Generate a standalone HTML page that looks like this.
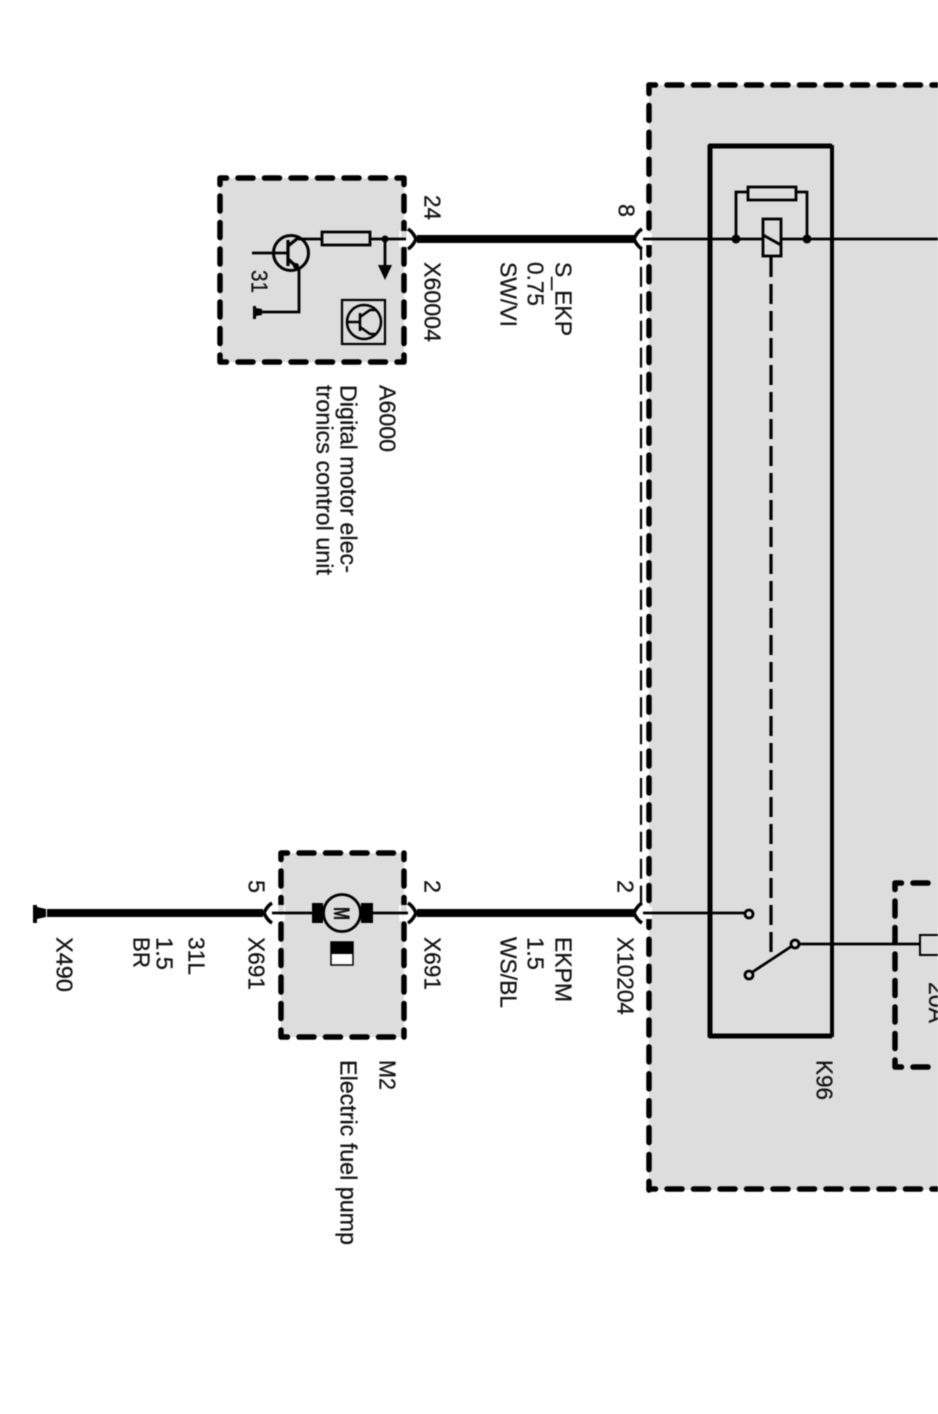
<!DOCTYPE html>
<html><head><meta charset="utf-8"><style>
html,body{margin:0;padding:0;background:#fff}
svg{display:block;filter:blur(.5px)}
text{font-family:"Liberation Sans",sans-serif;font-size:23px;fill:#111;stroke:#111;stroke-width:.25}
.w{fill:none;stroke:#000;stroke-width:2.8}
.t{fill:none;stroke:#000;stroke-width:8}
.d{fill:none;stroke:#000;stroke-width:5.5;stroke-linecap:round;stroke-dasharray:15 11.5;stroke-dashoffset:8.5}
.v{stroke-dasharray:15 11.9;stroke-dashoffset:6.5}
.j{fill:none;stroke:#000;stroke-width:3.5}
</style></head><body>
<svg width="938" height="1414" viewBox="0 0 938 1414" xmlns="http://www.w3.org/2000/svg">
<rect width="938" height="1414" fill="#fff"/>
<!-- boxes -->
<rect x="220" y="178" width="184" height="184" fill="#ddd"/>
<path class="d" d="M220 178H404M220 178V362M220 362H404M404 178V362"/>
<rect x="281" y="853" width="123" height="184" fill="#ddd"/>
<path class="d" d="M281 853H404M281 853V1037M281 1037H404M404 853V1037"/>
<rect x="649" y="85" width="289" height="1105" fill="#ddd"/>
<path class="d" d="M649 85H938M649 1189H938"/>
<path class="d v" d="M649 85V1190"/>
<path class="d" d="M895 883H938M895 883V1067M895 1067H938"/>
<!-- relay frame -->
<path fill="none" stroke="#000" stroke-width="5" stroke-linejoin="round" d="M832 146H710V1036H832"/>
<path fill="none" stroke="#000" stroke-width="4" d="M832 145V1037"/>
<!-- double-dash line -->
<path fill="none" stroke="#fff" stroke-width="6" d="M641 249V905"/>
<path fill="none" stroke="#000" stroke-width="2.2" stroke-dasharray="20 6.9" stroke-dashoffset="9" d="M641 249V905"/>
<!-- halos at junctions -->
<rect x="636" y="233" width="16" height="12" fill="#fff"/>
<rect x="636" y="907" width="16" height="12" fill="#fff"/>
<rect x="399" y="231" width="9" height="16" fill="#fff" opacity=".85"/>
<rect x="399" y="905" width="9" height="16" fill="#fff" opacity=".85"/>
<rect x="276" y="905" width="9" height="16" fill="#fff" opacity=".85"/>
<!-- thick wires -->
<path class="t" d="M417 239H636M417 913H636M47 913H263"/>
<!-- thin wires -->
<path class="w" d="M643 239H938M643 913H745M799 944H920"/>
<path class="w" d="M272 913H312M373 913H408"/>
<!-- connector arcs -->
<path class="j" d="M408 229Q413 232 416 239Q413 246 408 249"/>
<path class="j" d="M642 229Q637 232 634 239Q637 246 642 249"/>
<path class="j" d="M642 903Q637 906 634 913Q637 920 642 923"/>
<path class="j" d="M408 903Q413 906 416 913Q413 920 408 923"/>
<path class="j" d="M272 903Q267 906 264 913Q267 920 272 923"/>
<!-- relay coil + resistor -->
<rect x="748" y="187" width="48" height="13" fill="#ddd" stroke="#000" stroke-width="2.8"/>
<path class="w" d="M748 192H736V239M796 192H807V239"/>
<circle cx="736" cy="239" r="4.5"/><circle cx="807" cy="239" r="4.5"/>
<rect x="763" y="219" width="18" height="37" fill="#ddd" stroke="#000" stroke-width="2.8"/>
<path class="w" d="M763 235L781 245"/>
<path fill="none" stroke="#000" stroke-width="3.2" stroke-dasharray="20 7" d="M771 257V958"/>
<!-- switch -->
<path class="w" d="M751 973L792 946"/>
<circle cx="749" cy="914" r="4" fill="#ddd" stroke="#000" stroke-width="2.8"/>
<circle cx="749" cy="975" r="4" fill="#ddd" stroke="#000" stroke-width="2.8"/>
<circle cx="795" cy="944" r="4" fill="#ddd" stroke="#000" stroke-width="2.8"/>
<rect x="920" y="935" width="22" height="20" fill="#ddd" stroke="#000" stroke-width="2"/>
<!-- A6000 internals -->
<circle cx="291" cy="253" r="17.5" fill="none" stroke="#000" stroke-width="3"/>
<path class="w" d="M252 253H288M298 239H322M370 239H406M299 268V312H258"/>
<path fill="none" stroke="#000" stroke-width="3.2" d="M288 240V266M288 246L298 238M288 259L298 268"/>
<circle cx="296" cy="266" r="3"/>
<rect x="322" y="232" width="48" height="13" fill="#ddd" stroke="#000" stroke-width="2.8"/>
<circle cx="385" cy="239" r="3.5"/>
<path class="w" d="M385 239V266"/>
<path d="M378 265H392L385 280Z"/>
<path d="M253 306H256V308L262 309V315L256 316V319H253Z"/>
<rect x="342" y="300" width="43" height="44" fill="#ddd" stroke="#000" stroke-width="2.2"/>
<circle cx="364" cy="322" r="17" fill="none" stroke="#000" stroke-width="2.5"/>
<path fill="none" stroke="#000" stroke-width="2.5" d="M347 322H360M360 313V331M360 317L370 310H376M360 327L370 334H376"/>
<!-- motor -->
<rect x="312" y="903" width="11" height="20"/>
<rect x="361" y="903" width="12" height="20"/>
<circle cx="342" cy="913" r="18.5" fill="#ddd" stroke="#000" stroke-width="2.8"/>
<text transform="translate(334,907) rotate(90)" textLength="13" lengthAdjust="spacingAndGlyphs" style="font-size:22px;font-weight:bold">M</text>
<rect x="331" y="942" width="22" height="23" fill="#fff" stroke="#000" stroke-width="1.5"/>
<rect x="331" y="942" width="22" height="12"/>
<!-- ground -->
<path d="M33 905H37V907L46 909V917L37 919V923H33Z"/>
<!-- labels -->
<g>
<text transform="translate(424.5,195) rotate(90)" textLength="25" lengthAdjust="spacingAndGlyphs">24</text>
<text transform="translate(424.5,262) rotate(90)" textLength="80" lengthAdjust="spacingAndGlyphs">X60004</text>
<text transform="translate(618.5,204) rotate(90)" textLength="13" lengthAdjust="spacingAndGlyphs">8</text>
<text transform="translate(555.5,262) rotate(90)" textLength="74" lengthAdjust="spacingAndGlyphs">S_EKP</text>
<text transform="translate(527.5,262) rotate(90)" textLength="44" lengthAdjust="spacingAndGlyphs">0.75</text>
<text transform="translate(500.5,262) rotate(90)" textLength="65" lengthAdjust="spacingAndGlyphs">SW/VI</text>
<text transform="translate(251.5,270) rotate(90)" textLength="23" lengthAdjust="spacingAndGlyphs">31</text>
<text transform="translate(379.5,385) rotate(90)" textLength="67" lengthAdjust="spacingAndGlyphs">A6000</text>
<text transform="translate(340.5,385) rotate(90)" textLength="188" lengthAdjust="spacingAndGlyphs">Digital motor elec-</text>
<text transform="translate(316.5,385) rotate(90)" textLength="190" lengthAdjust="spacingAndGlyphs">tronics control unit</text>
<text transform="translate(617.5,880) rotate(90)" textLength="13" lengthAdjust="spacingAndGlyphs">2</text>
<text transform="translate(617.5,937) rotate(90)" textLength="78" lengthAdjust="spacingAndGlyphs">X10204</text>
<text transform="translate(555.5,937) rotate(90)" textLength="65" lengthAdjust="spacingAndGlyphs">EKPM</text>
<text transform="translate(527.5,937) rotate(90)" textLength="33" lengthAdjust="spacingAndGlyphs">1.5</text>
<text transform="translate(500.5,937) rotate(90)" textLength="71" lengthAdjust="spacingAndGlyphs">WS/BL</text>
<text transform="translate(424.5,880) rotate(90)" textLength="13" lengthAdjust="spacingAndGlyphs">2</text>
<text transform="translate(424.5,937) rotate(90)" textLength="53" lengthAdjust="spacingAndGlyphs">X691</text>
<text transform="translate(248.5,880) rotate(90)" textLength="13" lengthAdjust="spacingAndGlyphs">5</text>
<text transform="translate(248.5,937) rotate(90)" textLength="53" lengthAdjust="spacingAndGlyphs">X691</text>
<text transform="translate(188.5,937) rotate(90)" textLength="38" lengthAdjust="spacingAndGlyphs">31L</text>
<text transform="translate(156.5,937) rotate(90)" textLength="33" lengthAdjust="spacingAndGlyphs">1.5</text>
<text transform="translate(133.5,937) rotate(90)" textLength="31" lengthAdjust="spacingAndGlyphs">BR</text>
<text transform="translate(56.5,937) rotate(90)" textLength="55" lengthAdjust="spacingAndGlyphs">X490</text>
<text transform="translate(379.5,1060) rotate(90)" textLength="30" lengthAdjust="spacingAndGlyphs">M2</text>
<text transform="translate(340.5,1060) rotate(90)" textLength="185" lengthAdjust="spacingAndGlyphs">Electric fuel pump</text>
<text transform="translate(816.5,1060) rotate(90)" textLength="40" lengthAdjust="spacingAndGlyphs">K96</text>
<text transform="translate(929,982) rotate(90)" textLength="41" lengthAdjust="spacingAndGlyphs">20A</text>
</g>
</svg>
</body></html>
